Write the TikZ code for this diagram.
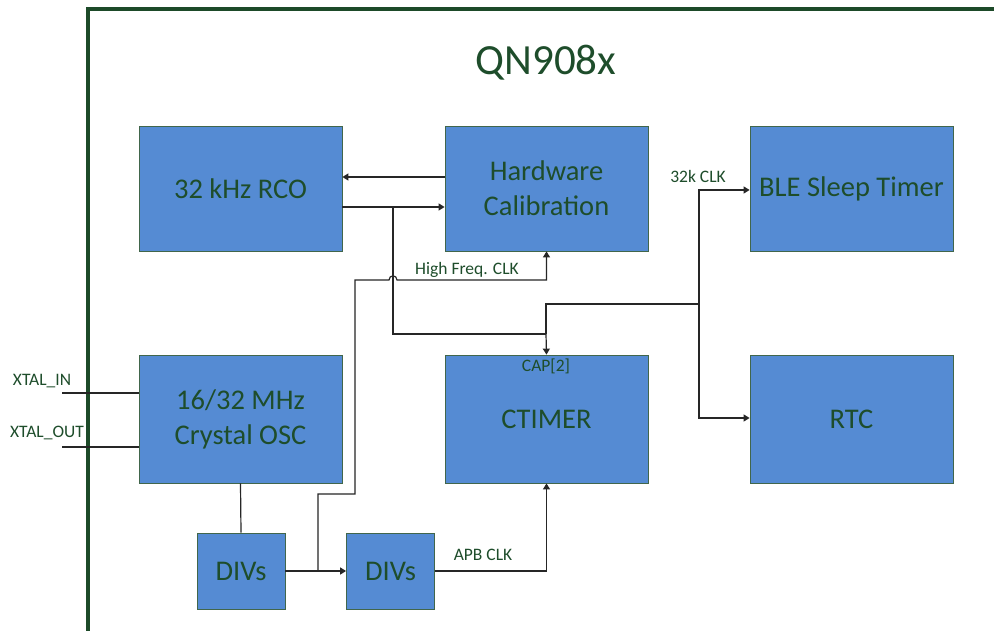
\documentclass[tikz,border=0pt]{standalone}
\usepackage{fontspec}
\setmainfont{Carlito}
\usetikzlibrary{arrows.meta}
\definecolor{boxblue}{HTML}{558BD3}
\definecolor{boxline}{HTML}{41664B}
\definecolor{txtgreen}{HTML}{1E4D2B}
\definecolor{framegreen}{HTML}{1D4A29}
\tikzset{
  blk/.style={draw=boxline, line width=0.8pt, fill=boxblue, inner sep=0pt, align=center,
    text=txtgreen, font=\fontsize{28.5}{35}\selectfont},
  big/.style={blk, minimum width=203pt, minimum height=125pt},
  tall/.style={blk, minimum width=203pt, minimum height=128pt},
  small/.style={blk, minimum width=88pt, minimum height=76pt},
  wire/.style={line width=1.2pt, black!85},
  arr/.style={wire, -{Triangle[length=6pt,width=7pt]}},
  lbl/.style={text=txtgreen, font=\fontsize{17.5}{19}\selectfont, inner sep=0pt},
}
\begin{document}
\begin{tikzpicture}[x=1pt,y=-1pt]
\path[use as bounding box] (0,0) rectangle (994,631);
\clip (0,0) rectangle (994,631);
\fill[white] (0,0) rectangle (994,631);
% frame
\draw[framegreen, line width=3.5pt] (88,640) -- (88,9) -- (1000,9);
\node[text=txtgreen, font=\fontsize{43}{45}\selectfont] (title) at (546,63) {QN908x};
% blocks
\node[big] (rco) at (240.5,188.5) {32 kHz RCO};
\node[big] (hc) at (546.5,188.5) {Hardware\\Calibration};
\node[big] (ble) at (851.5,188.5) {BLE Sleep Timer};
\node[tall] (osc) at (240.5,419) {16/32 MHz\\Crystal OSC};
\node[tall] (ctm) at (546.5,419) {CTIMER};
\node[tall] (rtc) at (851.5,419) {RTC};
\node[small] (div1) at (241,571) {DIVs};
\node[small] (div2) at (390.5,571) {DIVs};
% labels
\node[lbl] (cap) at (546,366) {CAP[2]};
\node[lbl] (hfl) at (467,270) {High Freq. CLK};
\node[lbl] (apbl) at (483,555) {APB CLK};
\node[lbl] (k32) at (698,176) {32k CLK};
\node[lbl] (xin) at (42,381) {XTAL\_IN};
\node[lbl] (xout) at (47,433) {XTAL\_OUT};
% coordinates
\coordinate (j1) at (393,207);
\coordinate (j2) at (546,334);
\coordinate (j3) at (546,304);
\coordinate (j4) at (699,304);
\coordinate (j5) at (318,571);
\coordinate (xi) at (62,393);
\coordinate (xo) at (62,447);
% connectors
\draw[arr] (hc.west |- 0,177) -- (rco.east |- 0,177);
\draw[arr] (rco.east |- j1) -- (hc.west |- j1);
\draw[wire] (j1) |- (j2);
\draw[arr] (j2) -- (ctm.north);
\draw[wire] (j2) -- (j3) -- (j4);
\draw[arr] (j4) |- (ble.west |- 0,190);
\draw[arr] (j4) |- (rtc.west |- 0,418);
\draw[arr] (div1.east) -- (div2.west);
\draw[arr] (j5) -- (318,494) -- (355,494) -- (355,280) -- (389,280)
   .. controls (389,274.5) and (397,274.5) .. (397,280) -| (hc.south);
\draw[arr] (div2.east) -| (ctm.south);
\draw[wire] (osc.south) -- (div1.north);
\draw[wire] (xi) -- (osc.west |- xi);
\draw[wire] (xo) -- (osc.west |- xo);
\end{tikzpicture}
\end{document}
